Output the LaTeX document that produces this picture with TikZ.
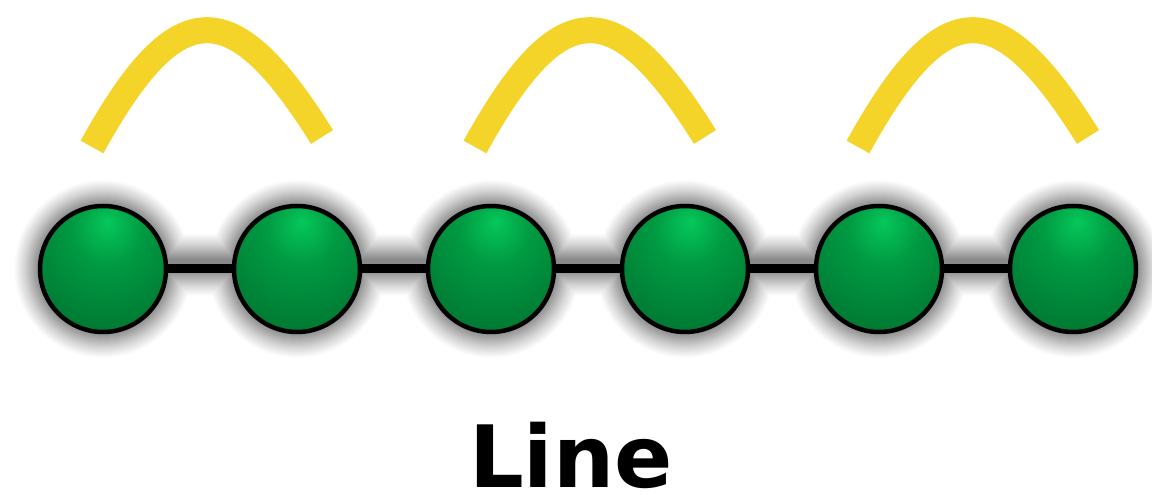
\documentclass[tikz,border=0pt]{standalone}
\usepackage{fontspec}
\newfontfamily\labelfont{DejaVu Sans}
\usetikzlibrary{backgrounds}

\definecolor{ballhi}{HTML}{05C85A}
\definecolor{ballmid}{HTML}{009A42}
\definecolor{balllo}{HTML}{00662A}
\definecolor{hopyellow}{HTML}{F5D42A}

% sphere-like green shading, highlight slightly above the centre
\pgfdeclareradialshading{greenball}{\pgfpoint{2bp}{19bp}}{%
  color(0bp)=(ballhi); color(14bp)=(ballmid); color(48bp)=(balllo); color(80bp)=(balllo)}

\tikzset{
  ball/.style={circle, minimum size=126pt, inner sep=0pt, draw=black,
    line width=4.5pt, shading=greenball},
  link/.style={draw=black, line width=9pt},
  hop/.style={draw=hopyellow, line width=26pt},
  caption/.style={font=\labelfont\bfseries\fontsize{86}{86}\selectfont,
    anchor=base, inner sep=0pt}
}

\begin{document}
\begin{tikzpicture}[x=1pt, y=1pt]
\useasboundingbox (0,0) rectangle (1152,495);

% the six vertices of the line graph
\foreach \i in {1,...,6} {
  \node[ball] (c\i) at ({103+194*(\i-1)}, 226) {};
}

\begin{pgfonlayer}{background}
  % soft dark glow around the chain, built from many faint layers
  \foreach \d in {26,25,...,1} {
    \pgfmathsetmacro{\op}{0.012+0.0009*(26-\d)}
    \fill[black, opacity=\op]
      \foreach \i in {1,...,6} { ({103+194*(\i-1)}, 226) circle ({63+\d}) }
      (103, {230-5-\d}) -- (1073, {230-5-\d}) -- (1073, {230+5+\d}) -- (103, {230+5+\d}) -- cycle;
  }
  % edges between consecutive vertices
  \draw[link] (c1.center) -- (c2.center);
  \draw[link] (c2.center) -- (c3.center);
  \draw[link] (c3.center) -- (c4.center);
  \draw[link] (c4.center) -- (c5.center);
  \draw[link] (c5.center) -- (c6.center);
\end{pgfonlayer}

% yellow hop arcs over pairs of vertices
\foreach \s [count=\k] in {0,383,766} {
  \coordinate (h\k a) at ({92+\s}, 348);
  \coordinate (h\k b) at ({322+\s}, 358);
  \draw[hop] (h\k a) .. controls ({177+\s}, 502) and ({232+\s}, 502) .. (h\k b);
}

\node[caption] (label) at (571, 7) {Line};
\end{tikzpicture}
\end{document}
